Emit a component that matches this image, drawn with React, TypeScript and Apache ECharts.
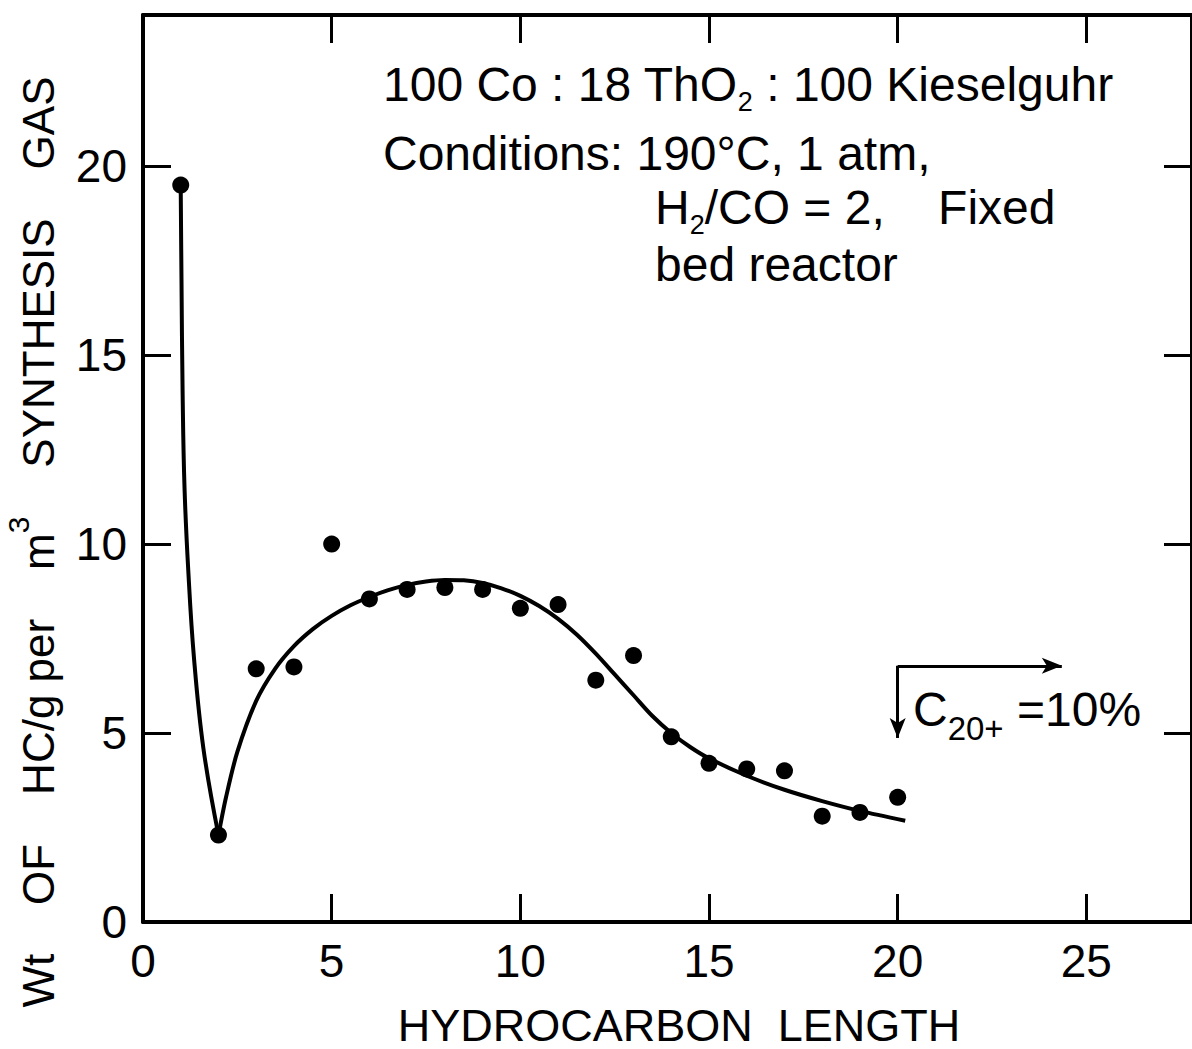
import React, { useEffect, useRef } from "react";
import * as echarts from "echarts";

// Measured points: carbon number vs. wt of HC (g per m3 synthesis gas)
const carbonNumbers = [1, 2, 3, 4, 5, 6, 7, 8, 9, 10, 11, 12, 13, 14, 15, 16, 17, 18, 19, 20];
const measuredWt = [19.5, 2.3, 6.7, 6.75, 10.0, 8.55, 8.8, 8.85, 8.8, 8.3, 8.4, 6.4, 7.05, 4.9, 4.2, 4.05, 4.0, 2.8, 2.9, 3.3];

// Drawn curve: steep branch C1 -> C2
const steepBranchX = [1.0, 1.02, 1.05, 1.1, 1.2, 1.35, 1.6, 2.0];
const steepBranchY = [19.4, 17.0, 14.0, 11.5, 9.3, 7.0, 4.6, 2.3];

// Drawn curve: smooth distribution from C2 onward
const fitCurveX = [2.0, 2.2, 2.5, 3.0, 3.5, 4.0, 4.5, 5.0, 5.5, 6.0, 6.5, 7.0, 7.5, 8.0, 8.5, 9.0, 9.5, 10.0, 10.5, 11.0, 11.5, 12.0, 12.5, 13.0, 13.5, 14.0, 14.5, 15.0, 16.0, 17.0, 18.0, 19.0, 20.2];
const fitCurveY = [2.3, 3.3, 4.5, 5.85, 6.7, 7.3, 7.75, 8.1, 8.38, 8.6, 8.78, 8.92, 9.01, 9.05, 9.04, 8.97, 8.83, 8.63, 8.36, 8.02, 7.6, 7.1, 6.55, 6.0, 5.45, 5.0, 4.63, 4.33, 3.87, 3.5, 3.2, 2.94, 2.68];

// C20+ arrow (data coordinates)
const arrowCorner = [20, 6.78];
const arrowDownEnd = [20, 4.87];
const arrowRightEnd = [24.35, 6.78];

const X_MIN = 0;
const X_MAX = 27.8;
const Y_MIN = 0;
const Y_MAX = 24;
const TICK_STEP = 5;

const FONT = "'Liberation Sans', Arial, sans-serif";

function zip(xs: number[], ys: number[]) {
  return xs.map((x, i) => [x, ys[i]]);
}

export default function App() {
  const ref = useRef<HTMLDivElement>(null);

  useEffect(() => {
    if (!ref.current) return;
    const chart = echarts.init(ref.current, null, { renderer: "svg" });

    const axisLine = { show: true, onZero: false, lineStyle: { color: "#000", width: 4 } };
    const axisTick = { show: true, inside: true, length: 28, lineStyle: { color: "#000", width: 3 } };

    const main = { fontSize: 48, lineHeight: 52, fontFamily: FONT, color: "#000" };
    const sub = { fontSize: 27, height: 17, verticalAlign: "bottom", fontFamily: FONT, color: "#000" };
    const sub2 = { fontSize: 33, height: 14, verticalAlign: "bottom", fontFamily: FONT, color: "#000" };
    const sup = { fontSize: 30, lineHeight: 70, verticalAlign: "top", fontFamily: FONT, color: "#000" };
    const mainT = { fontSize: 44, lineHeight: 50, fontFamily: FONT, color: "#000" };

    const option: any = {
      animation: false,
      backgroundColor: "#fff",
      grid: { left: 143, top: 15, right: -3, bottom: 127 },
      xAxis: [
        {
          type: "value",
          position: "bottom",
          min: X_MIN,
          max: X_MAX,
          interval: TICK_STEP,
          axisLine,
          axisTick,
          splitLine: { show: false },
          axisLabel: { fontSize: 46, color: "#000", fontFamily: FONT, margin: 16, showMaxLabel: false },
        },
        {
          type: "value",
          position: "top",
          min: X_MIN,
          max: X_MAX,
          interval: TICK_STEP,
          axisLine,
          axisTick,
          splitLine: { show: false },
          axisLabel: { show: false },
        },
      ],
      yAxis: [
        {
          type: "value",
          position: "left",
          min: Y_MIN,
          max: Y_MAX,
          interval: TICK_STEP,
          axisLine,
          axisTick,
          splitLine: { show: false },
          axisLabel: { fontSize: 46, color: "#000", fontFamily: FONT, margin: 16, showMaxLabel: false },
        },
        {
          type: "value",
          position: "right",
          min: Y_MIN,
          max: Y_MAX,
          interval: TICK_STEP,
          axisLine,
          axisTick,
          splitLine: { show: false },
          axisLabel: { show: false },
        },
      ],
      series: [
        {
          type: "line",
          data: zip(steepBranchX, steepBranchY),
          smooth: 0.4,
          showSymbol: false,
          lineStyle: { color: "#000", width: 4 },
          silent: true,
        },
        {
          type: "line",
          data: zip(fitCurveX, fitCurveY),
          smooth: 0.3,
          showSymbol: false,
          lineStyle: { color: "#000", width: 4 },
          silent: true,
        },
        {
          type: "scatter",
          data: zip(carbonNumbers, measuredWt),
          symbol: "circle",
          symbolSize: 17,
          itemStyle: { color: "#000", opacity: 1 },
          silent: true,
          markLine: {
            silent: true,
            symbol: ["none", "arrow"],
            symbolSize: [12, 20],
            label: { show: false },
            emphasis: { disabled: true },
            lineStyle: { color: "#000", width: 3, type: "solid", opacity: 1 },
            data: [
              [{ coord: arrowCorner }, { coord: arrowDownEnd }],
              [{ coord: arrowCorner }, { coord: arrowRightEnd }],
            ],
          },
        },
      ],
      graphic: [
        {
          type: "text",
          x: 383,
          y: 84,
          style: {
            text: "100 Co : 18 ThO{s|2} : 100 Kieselguhr",
            rich: { s: sub },
            ...main,
            fill: "#000",
            align: "left",
            verticalAlign: "middle",
          },
        },
        {
          type: "text",
          x: 383,
          y: 153,
          style: {
            text: "Conditions: 190°C, 1 atm,",
            ...main,
            fill: "#000",
            align: "left",
            verticalAlign: "middle",
          },
        },
        {
          type: "text",
          x: 655,
          y: 207,
          style: {
            text: "H{s|2}/CO = 2,    Fixed",
            rich: { s: sub },
            ...main,
            fill: "#000",
            align: "left",
            verticalAlign: "middle",
          },
        },
        {
          type: "text",
          x: 655,
          y: 264,
          style: {
            text: "bed reactor",
            ...main,
            fill: "#000",
            align: "left",
            verticalAlign: "middle",
          },
        },
        {
          type: "text",
          x: 913,
          y: 709,
          style: {
            text: "C{s|20+} =10%",
            rich: { s: sub2 },
            ...main,
            fill: "#000",
            align: "left",
            verticalAlign: "middle",
          },
        },
        {
          type: "text",
          x: 679,
          y: 1025,
          style: {
            text: "HYDROCARBON  LENGTH",
            fontSize: 45,
            fontFamily: FONT,
            fill: "#000",
            align: "center",
            verticalAlign: "middle",
          },
        },
        {
          type: "text",
          x: 38,
          y: 542,
          rotation: Math.PI / 2,
          style: {
            text: "Wt    OF    HC/g per    m{p|3}    SYNTHESIS    GAS",
            rich: { p: sup },
            ...mainT,
            fill: "#000",
            align: "center",
            verticalAlign: "middle",
          },
        },
      ],
    };

    chart.setOption(option);
    return () => chart.dispose();
  }, []);

  return (
    <div
      ref={ref}
      style={{ position: "fixed", left: 0, top: 0, width: 1192, height: 1049, background: "#fff" }}
    />
  );
}
